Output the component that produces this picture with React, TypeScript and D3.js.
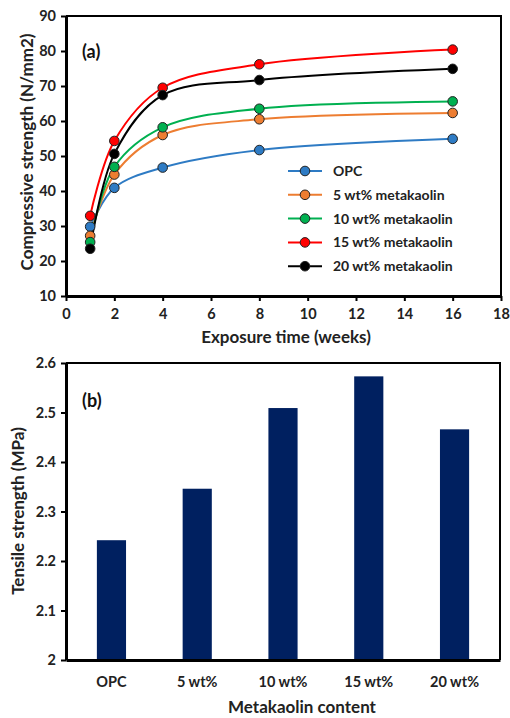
import * as d3 from 'd3';
import React, { useRef, useEffect } from 'react';

// exposure time (weeks) and compressive strength (N/mm2) per mix
const weeks = [1, 2, 4, 8, 16];
const opc = [29.8, 40.9, 46.7, 51.7, 54.9];
const mk5 = [27.2, 44.7, 56.0, 60.5, 62.3];
const mk10 = [25.4, 46.9, 58.2, 63.5, 65.6];
const mk15 = [32.9, 54.3, 69.5, 76.2, 80.4];
const mk20 = [23.5, 50.6, 67.4, 71.7, 74.9];
const seriesNames = ['OPC', '5 wt% metakaolin', '10 wt% metakaolin', '15 wt% metakaolin', '20 wt% metakaolin'];
const seriesColors = ['#2E7BC4', '#ED7D31', '#00B050', '#FF0000', '#000000'];

// tensile strength (MPa) per metakaolin content
const contents = ['OPC', '5 wt%', '10 wt%', '15 wt%', '20 wt%'];
const tensile = [2.242, 2.346, 2.509, 2.573, 2.466];

const FONT = 'Lato, "Open Sans", sans-serif';

function App() {
    const ref = useRef(null);

    useEffect(() => {
        const svg = d3.select(ref.current);
        svg.selectAll('*').remove();

        // ---------- (a) compressive strength ----------
        const a = { left: 66, right: 501, top: 16, bottom: 296 };
        const x = d3.scaleLinear().domain([0, 18]).range([a.left, a.right]);
        const y = d3.scaleLinear().domain([10, 90]).range([a.bottom, a.top]);

        const gA = svg.append('g');

        const xAxis = gA.append('g')
            .attr('transform', `translate(0,${a.bottom})`)
            .call(d3.axisBottom(x).tickValues(d3.range(0, 19, 2)).tickSize(5).tickSizeOuter(0));
        const yAxis = gA.append('g')
            .attr('transform', `translate(${a.left},0)`)
            .call(d3.axisLeft(y).tickValues(d3.range(10, 91, 10)).tickSize(5).tickSizeOuter(0));

        // frame
        gA.append('path')
            .attr('d', `M${a.left},${a.top}H${a.right}V${a.bottom}`)
            .attr('fill', 'none').attr('stroke', '#000').attr('stroke-width', 2);

        [xAxis, yAxis].forEach(ax => {
            ax.select('.domain').attr('stroke-width', 3);
            ax.selectAll('.tick line').attr('stroke-width', 2);
            ax.selectAll('text')
                .attr('font-family', FONT).attr('font-weight', 700)
                .attr('font-size', 14.5).attr('fill', '#222');
        });
        xAxis.selectAll('text').attr('dy', '1.05em');
        yAxis.selectAll('text').attr('x', -10);

        const allSeries = [opc, mk5, mk10, mk15, mk20];
        const line = d3.line()
            .x((d, i) => x(weeks[i]))
            .y(d => y(d))
            .curve(d3.curveCatmullRom.alpha(0.5));

        allSeries.forEach((s, k) => {
            gA.append('path')
                .datum(s)
                .attr('d', line)
                .attr('fill', 'none')
                .attr('stroke', seriesColors[k])
                .attr('stroke-width', 2);
        });
        allSeries.forEach((s, k) => {
            gA.selectAll(null)
                .data(s)
                .join('circle')
                .attr('cx', (d, i) => x(weeks[i]))
                .attr('cy', d => y(d))
                .attr('r', 4.8)
                .attr('fill', seriesColors[k])
                .attr('stroke', '#222')
                .attr('stroke-width', 1);
        });

        // legend
        const leg = gA.append('g').attr('transform', 'translate(288,171)');
        seriesNames.forEach((name, k) => {
            const row = leg.append('g').attr('transform', `translate(0,${k * 23.8})`);
            row.append('line').attr('x1', 0).attr('x2', 34)
                .attr('stroke', seriesColors[k]).attr('stroke-width', 2);
            row.append('circle').attr('cx', 17).attr('r', 4.8)
                .attr('fill', seriesColors[k]).attr('stroke', '#222').attr('stroke-width', 1);
            row.append('text').attr('x', 45).attr('dy', '0.35em')
                .attr('font-family', FONT).attr('font-weight', 700).attr('font-size', 14)
                .attr('fill', '#222').text(name);
        });

        gA.append('text').attr('x', 82).attr('y', 58)
            .attr('font-family', FONT).attr('font-weight', 700).attr('font-size', 18)
            .attr('fill', '#111').text('(a)');

        gA.append('text')
            .attr('x', 286).attr('y', 343)
            .attr('text-anchor', 'middle')
            .attr('font-family', FONT).attr('font-weight', 700).attr('font-size', 17)
            .attr('fill', '#222').text('Exposure time (weeks)');
        gA.append('text')
            .attr('transform', 'translate(27,152) rotate(-90)')
            .attr('text-anchor', 'middle').attr('dy', '0.35em')
            .attr('font-family', FONT).attr('font-weight', 700).attr('font-size', 17)
            .attr('fill', '#222').text('Compressive strength (N/mm2)');

        // ---------- (b) tensile strength ----------
        const b = { left: 66, right: 500, top: 363, bottom: 660 };
        const xb = d3.scaleBand().domain(contents).range([b.left, b.right])
            .paddingInner(0.66).paddingOuter(0.36);
        const yb = d3.scaleLinear().domain([2, 2.6]).range([b.bottom, b.top]);

        const gB = svg.append('g');

        gB.selectAll('rect')
            .data(tensile)
            .join('rect')
            .attr('x', (d, i) => xb(contents[i]))
            .attr('y', d => yb(d))
            .attr('width', xb.bandwidth())
            .attr('height', d => yb(2) - yb(d))
            .attr('fill', '#002060');

        const xbAxis = gB.append('g')
            .attr('transform', `translate(0,${b.bottom})`)
            .call(d3.axisBottom(xb).tickSize(0).tickSizeOuter(0));
        const ybAxis = gB.append('g')
            .attr('transform', `translate(${b.left},0)`)
            .call(d3.axisLeft(yb).tickValues(d3.range(0, 7).map(i => 2 + i / 10))
                .tickFormat(d => d3.format('.1~f')(d)).tickSize(5).tickSizeOuter(0));

        gB.append('path')
            .attr('d', `M${b.left},${b.top}H${b.right}V${b.bottom}`)
            .attr('fill', 'none').attr('stroke', '#000').attr('stroke-width', 2);

        [xbAxis, ybAxis].forEach(ax => {
            ax.select('.domain').attr('stroke-width', 3);
            ax.selectAll('.tick line').attr('stroke-width', 2);
            ax.selectAll('text')
                .attr('font-family', FONT).attr('font-weight', 700)
                .attr('font-size', 14.5).attr('fill', '#222');
        });
        xbAxis.selectAll('text').attr('y', 17).attr('dy', '0.71em');
        ybAxis.selectAll('text').attr('x', -10);

        gB.append('text').attr('x', 82).attr('y', 407)
            .attr('font-family', FONT).attr('font-weight', 700).attr('font-size', 18)
            .attr('fill', '#111').text('(b)');

        gB.append('text')
            .attr('x', 302).attr('y', 713)
            .attr('text-anchor', 'middle')
            .attr('font-family', FONT).attr('font-weight', 700).attr('font-size', 17)
            .attr('fill', '#222').text('Metakaolin content');
        gB.append('text')
            .attr('transform', 'translate(18,511) rotate(-90)')
            .attr('text-anchor', 'middle').attr('dy', '0.35em')
            .attr('font-family', FONT).attr('font-weight', 700).attr('font-size', 17)
            .attr('fill', '#222').text('Tensile strength (MPa)');
    }, []);

    return (
        <svg ref={ref} width={510} height={718}
            style={{ position: 'absolute', left: 0, top: 0, background: '#fff' }}>
        </svg>
    );
}

export default App;
